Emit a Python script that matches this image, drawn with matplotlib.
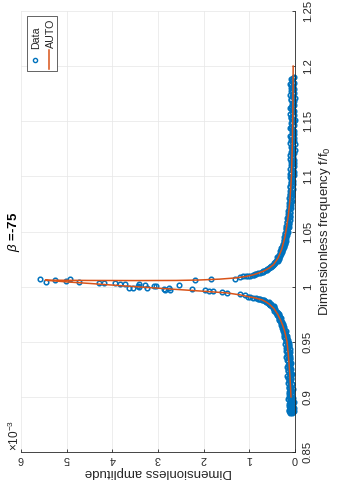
import matplotlib
matplotlib.use('Agg')
import matplotlib.pyplot as plt
from matplotlib.patches import Rectangle
from matplotlib.lines import Line2D

plt.rcParams['font.family'] = ['Liberation Sans', 'DejaVu Sans']
plt.rcParams['mathtext.fontset'] = 'custom'
plt.rcParams['mathtext.rm'] = 'Liberation Sans'
plt.rcParams['mathtext.it'] = 'Liberation Sans:italic'
plt.rcParams['mathtext.bf'] = 'Liberation Sans:bold'

# ---------------- data (amplitude in units of 1e-3) ----------------
auto_freq = [0.900, 0.910, 0.920, 0.930, 0.940, 0.950, 0.955, 0.960, 0.965, 0.970,
             0.975, 0.980, 0.984, 0.986, 0.988, 0.990, 0.9907, 0.9925, 0.9943, 0.9958,
             0.9972, 0.9986, 1.0000, 1.0014, 1.0029, 1.0043, 1.0058,
             1.0058, 1.0056, 1.0055, 1.0056, 1.0060, 1.0068, 1.0079, 1.0092, 1.0105,
             1.0120, 1.0140, 1.0170, 1.0200, 1.0260, 1.0340, 1.0450, 1.0550, 1.0650,
             1.0790, 1.1000, 1.1300, 1.1600, 1.2000]
auto_amp = [0.088, 0.100, 0.113, 0.130, 0.150, 0.175, 0.200, 0.230, 0.270, 0.320,
            0.380, 0.460, 0.560, 0.630, 0.720, 0.900, 1.000, 1.200, 1.490, 2.000,
            2.500, 3.000, 3.500, 4.000, 4.500, 5.000, 5.470,
            5.200, 4.500, 3.500, 2.600, 2.100, 1.650, 1.300, 1.080, 0.930,
            0.820, 0.690, 0.560, 0.470, 0.370, 0.290, 0.220, 0.180, 0.145,
            0.110, 0.078, 0.058, 0.047, 0.040]

peak_freq = [1.0070, 1.0045, 1.0060, 1.0054, 1.0070, 1.0039, 1.0036, 1.0036, 1.0030, 1.0027,
             1.0020, 0.9991, 1.0024, 0.9994, 1.0015, 0.9985, 1.0003, 1.0010, 0.9973, 0.9991,
             0.9980, 0.9973, 1.0012, 0.9976, 0.9966, 0.9957, 0.9960, 1.0073, 0.9952, 0.9943,
             1.0073, 1.0085, 1.0094, 0.9934, 0.9927, 1.0060, 0.9988, 1.0010]
peak_amp = [5.58, 5.45, 5.25, 5.01, 4.92, 4.74, 4.30, 4.18, 3.94, 3.83,
            3.72, 3.63, 3.41, 3.41, 3.28, 3.23, 3.09, 3.04, 2.84, 2.75,
            2.87, 2.74, 2.54, 2.26, 1.97, 1.88, 1.79, 1.84, 1.60, 1.49,
            1.31, 1.20, 1.14, 1.20, 1.09, 2.20, 3.55, 3.43]

low_freq = [0.885, 0.886, 0.887, 0.888, 0.889, 0.890, 0.891, 0.892, 0.893, 0.894,
            0.895, 0.896, 0.897, 0.898, 0.899, 0.901, 0.903, 0.904, 0.906, 0.907,
            0.909, 0.910, 0.912, 0.913, 0.915, 0.916, 0.918, 0.919, 0.921, 0.922,
            0.924, 0.925, 0.927, 0.928, 0.930, 0.931, 0.933, 0.934, 0.936, 0.937,
            0.939, 0.940, 0.942, 0.943, 0.945, 0.946, 0.948, 0.949, 0.951, 0.952,
            0.954, 0.955, 0.957, 0.958, 0.960, 0.961, 0.963, 0.964, 0.966, 0.967,
            0.969, 0.970, 0.972, 0.973, 0.975, 0.976, 0.977, 0.978, 0.980, 0.981,
            0.982, 0.983, 0.984, 0.985, 0.986, 0.987, 0.988, 0.9885, 0.989, 0.9895,
            0.990, 0.9905, 0.991]
low_amp = [0.10, 0.04, 0.13, 0.07, 0.11, 0.03, 0.09, 0.14, 0.06, 0.10,
           0.02, 0.12, 0.08, 0.15, 0.05, 0.11, 0.07, 0.13, 0.09, 0.04,
           0.14, 0.10, 0.06, 0.16, 0.11, 0.08, 0.13, 0.17, 0.07, 0.12,
           0.15, 0.09, 0.18, 0.11, 0.14, 0.08, 0.17, 0.12, 0.19, 0.10,
           0.15, 0.13, 0.20, 0.11, 0.17, 0.14, 0.21, 0.13, 0.19, 0.16,
           0.23, 0.18, 0.21, 0.25, 0.20, 0.26, 0.24, 0.29, 0.26, 0.31,
           0.30, 0.35, 0.33, 0.38, 0.36, 0.41, 0.39, 0.45, 0.44, 0.49,
           0.47, 0.54, 0.53, 0.60, 0.58, 0.66, 0.70, 0.76, 0.80, 0.86,
           0.93, 0.98, 1.03]

low2_freq = [0.8855, 0.8865, 0.8875, 0.8885, 0.8895, 0.8905, 0.8915, 0.8925, 0.8935, 0.8945,
             0.8955, 0.8965, 0.8975, 0.8985, 0.8995, 0.9000, 0.9020, 0.9025, 0.9050, 0.9055,
             0.9080, 0.9085, 0.9110, 0.9115, 0.9140, 0.9145, 0.9170, 0.9175, 0.9200, 0.9205,
             0.9230, 0.9235, 0.9260, 0.9265, 0.9290, 0.9295, 0.9320, 0.9325, 0.9350, 0.9355,
             0.9380, 0.9385, 0.9410, 0.9415, 0.9440, 0.9445, 0.9470, 0.9475, 0.9500, 0.9505,
             0.9530, 0.9535, 0.9560, 0.9565, 0.9590, 0.9595, 0.9620, 0.9625, 0.9650, 0.9655,
             0.9680, 0.9685, 0.9710, 0.9715, 0.9740, 0.9745, 0.9765, 0.9790, 0.9795, 0.9815,
             0.9825, 0.9835, 0.9845, 0.9855, 0.9865, 0.9875, 0.9882, 0.9888]
low2_amp = [0.07, 0.12, 0.03, 0.14, 0.06, 0.12, 0.05, 0.10, 0.13, 0.04,
            0.09, 0.06, 0.12, 0.09, 0.13, 0.07, 0.10, 0.14, 0.06, 0.12,
            0.09, 0.13, 0.12, 0.07, 0.10, 0.14, 0.09, 0.15, 0.12, 0.09,
            0.10, 0.16, 0.13, 0.10, 0.15, 0.12, 0.11, 0.16, 0.14, 0.10,
            0.17, 0.13, 0.12, 0.17, 0.15, 0.19, 0.13, 0.18, 0.16, 0.20,
            0.17, 0.21, 0.20, 0.23, 0.22, 0.26, 0.25, 0.28, 0.27, 0.30,
            0.29, 0.33, 0.34, 0.31, 0.36, 0.39, 0.38, 0.43, 0.47, 0.46,
            0.51, 0.55, 0.58, 0.56, 0.63, 0.68, 0.73, 0.78]

high_freq = [1.0095, 1.0100, 1.0105, 1.0110, 1.0120, 1.0125, 1.0130, 1.0140, 1.0150, 1.0160,
             1.017, 1.018, 1.019, 1.020, 1.021, 1.022, 1.024, 1.025, 1.027, 1.028,
             1.030, 1.031, 1.033, 1.034, 1.036, 1.037, 1.039, 1.040, 1.042, 1.044,
             1.045, 1.047, 1.049, 1.050, 1.052, 1.054, 1.055, 1.057, 1.059, 1.060,
             1.062, 1.064, 1.066, 1.067, 1.069, 1.071, 1.073, 1.074, 1.076, 1.078,
             1.080, 1.082, 1.084, 1.085, 1.087, 1.089, 1.091, 1.093, 1.095, 1.097,
             1.099, 1.101, 1.103, 1.105, 1.107, 1.109, 1.111, 1.113, 1.115, 1.117,
             1.119, 1.121, 1.123, 1.125, 1.127, 1.129, 1.131, 1.133, 1.135, 1.137,
             1.139, 1.141, 1.143, 1.145, 1.147, 1.149, 1.151, 1.153, 1.155, 1.157,
             1.159, 1.161, 1.163, 1.165, 1.167, 1.169, 1.171, 1.173, 1.175, 1.177,
             1.179, 1.181, 1.183, 1.185, 1.187, 1.189, 1.190]
high_amp = [1.08, 0.98, 0.92, 0.88, 0.80, 0.76, 0.73, 0.69, 0.64, 0.61,
            0.57, 0.53, 0.51, 0.48, 0.45, 0.43, 0.40, 0.36, 0.37, 0.32,
            0.33, 0.29, 0.31, 0.26, 0.28, 0.23, 0.26, 0.21, 0.24, 0.19,
            0.23, 0.17, 0.21, 0.16, 0.20, 0.14, 0.19, 0.13, 0.18, 0.12,
            0.17, 0.11, 0.16, 0.10, 0.15, 0.09, 0.14, 0.08, 0.13, 0.07,
            0.13, 0.06, 0.11, 0.07, 0.12, 0.05, 0.10, 0.04, 0.09, 0.06,
            0.11, 0.03, 0.08, 0.05, 0.10, 0.02, 0.07, 0.09, 0.03, 0.06,
            0.10, 0.02, 0.07, 0.04, 0.09, 0.01, 0.06, 0.08, 0.03, 0.10,
            0.05, 0.02, 0.07, 0.09, 0.03, 0.06, 0.01, 0.08, 0.04, 0.10,
            0.02, 0.06, 0.08, 0.03, 0.05, 0.09, 0.01, 0.07, 0.04, 0.09,
            0.02, 0.06, 0.08, 0.03, 0.07, 0.05, 0.02]

high2_freq = [1.0098, 1.0108, 1.0115, 1.0135, 1.0145, 1.0155, 1.0165, 1.0175, 1.0185, 1.0195,
              1.0205, 1.0215, 1.0230, 1.0235, 1.0260, 1.0265, 1.0290, 1.0295, 1.0320, 1.0325,
              1.0350, 1.0355, 1.0380, 1.0385, 1.0410, 1.0415, 1.0430, 1.0460, 1.0480, 1.0485,
              1.0510, 1.0530, 1.0535, 1.0560, 1.0580, 1.0585, 1.0610, 1.0630, 1.0635, 1.0650,
              1.068, 1.070, 1.072, 1.075, 1.077, 1.079, 1.081, 1.083, 1.086, 1.088,
              1.090, 1.092, 1.094, 1.096, 1.098, 1.100, 1.102, 1.104, 1.106, 1.108,
              1.110, 1.112, 1.114, 1.116, 1.118, 1.120, 1.122, 1.124, 1.126, 1.128,
              1.130, 1.132, 1.134, 1.136, 1.138, 1.140, 1.142, 1.144, 1.146, 1.148,
              1.150, 1.152, 1.154, 1.156, 1.158, 1.160, 1.162, 1.164, 1.166, 1.168,
              1.170, 1.172, 1.174, 1.176, 1.178, 1.180, 1.182, 1.184, 1.186, 1.188]
high2_amp = [1.02, 0.90, 0.85, 0.71, 0.67, 0.62, 0.58, 0.54, 0.52, 0.49,
             0.46, 0.44, 0.41, 0.38, 0.35, 0.39, 0.34, 0.31, 0.28, 0.32,
             0.30, 0.25, 0.27, 0.22, 0.25, 0.20, 0.22, 0.19, 0.22, 0.17,
             0.18, 0.15, 0.19, 0.16, 0.14, 0.18, 0.15, 0.12, 0.16, 0.13,
             0.12, 0.14, 0.10, 0.11, 0.09, 0.12, 0.08, 0.10, 0.09, 0.06,
             0.11, 0.07, 0.09, 0.04, 0.08, 0.06, 0.10, 0.02, 0.07, 0.05,
             0.09, 0.03, 0.07, 0.10, 0.04, 0.06, 0.09, 0.01, 0.07, 0.05,
             0.10, 0.03, 0.06, 0.08, 0.02, 0.07, 0.04, 0.10, 0.05, 0.08,
             0.03, 0.06, 0.09, 0.02, 0.07, 0.04, 0.10, 0.05, 0.07, 0.02,
             0.08, 0.05, 0.10, 0.03, 0.06, 0.08, 0.04, 0.10, 0.05, 0.08]

freq_ticks = [0.85, 0.9, 0.95, 1.0, 1.05, 1.1, 1.15, 1.2, 1.25]
freq_labels = ['0.85', '0.9', '0.95', '1', '1.05', '1.1', '1.15', '1.2', '1.25']
amp_ticks = [0, 1, 2, 3, 4, 5, 6]
amp_labels = ['0', '1', '2', '3', '4', '5', '6']

# ---------------- figure ----------------
W, H = 338, 492
fig = plt.figure(figsize=(W / 100, H / 100), dpi=100)

def fx(x):
    return x / W

def fy(y):
    return 1 - y / H

TXT = '#262626'
BLUE = '#0072BD'
ORANGE = '#D95319'

ax = fig.add_axes([fx(21), fy(452), (295 - 21) / W, (452 - 11) / H])

data_freq = low_freq + low2_freq + peak_freq + high_freq + high2_freq
data_amp = low_amp + low2_amp + peak_amp + high_amp + high2_amp
ax.plot(data_amp, data_freq, 'o', ms=3.3, mfc='none', mec=BLUE, mew=1.1,
        zorder=2, clip_on=False)
ax.plot(auto_amp, auto_freq, color=ORANGE, lw=1.1, zorder=3)

ax.set_xlim(6, 0)
ax.set_ylim(0.85, 1.25)
ax.set_xticks(amp_ticks)
ax.set_xticklabels(amp_labels, rotation=180)
ax.set_yticks(freq_ticks)
ax.set_yticklabels(freq_labels, rotation=90, va='center')
ax.yaxis.tick_right()

for s in ['top', 'left']:
    ax.spines[s].set_visible(False)
for s in ['bottom', 'right']:
    ax.spines[s].set_color(TXT)
    ax.spines[s].set_linewidth(0.6)

ax.tick_params(axis='both', direction='in', length=2.5, width=0.6, colors=TXT)
ax.tick_params(axis='x', pad=1.5, labelsize=7.8)
ax.tick_params(axis='y', pad=5.5, labelsize=8.2)
ax.grid(True, color='#e6e6e6', lw=0.5, zorder=0)
ax.set_axisbelow(True)

# axis labels (rotated with the figure)
fig.text(fx(158), fy(472.5), 'Dimensionless amplitude', rotation=180,
         ha='center', va='center', fontsize=9.5, color=TXT)
fig.text(fx(325), fy(231), 'Dimensionless frequency f/f$_0$', rotation=90,
         ha='center', va='center', fontsize=9.5, color=TXT)
fig.text(fx(14), fy(232), r'$\beta$ =-75', rotation=90, ha='center', va='center',
         fontsize=9.5, fontweight='bold', color='black')
fig.text(fx(14), fy(435), r'$\times10^{-3}$', rotation=90, ha='center', va='center',
         fontsize=8.5, color=TXT)

# legend (drawn manually, rotated)
leg = Rectangle((fx(27), fy(71)), (57 - 27) / W, (71 - 16) / H, transform=fig.transFigure,
                facecolor='white', edgecolor='#262626', lw=0.5, zorder=5)
fig.add_artist(leg)
fig.add_artist(Line2D([fx(35)], [fy(60)], marker='o', ms=3.0, mfc='none', mec=BLUE,
                      mew=1.0, transform=fig.transFigure, zorder=6))
fig.add_artist(Line2D([fx(49.3), fx(49.3)], [fy(69), fy(50)], color=ORANGE, lw=1.1,
                      transform=fig.transFigure, zorder=6))
fig.text(fx(36), fy(37.5), 'Data', rotation=90, ha='center', va='center',
         fontsize=7.7, color=TXT, zorder=7)
fig.text(fx(50.5), fy(33.5), 'AUTO', rotation=90, ha='center', va='center',
         fontsize=7.7, color=TXT, zorder=7)

fig.savefig('out.png', dpi=100)
